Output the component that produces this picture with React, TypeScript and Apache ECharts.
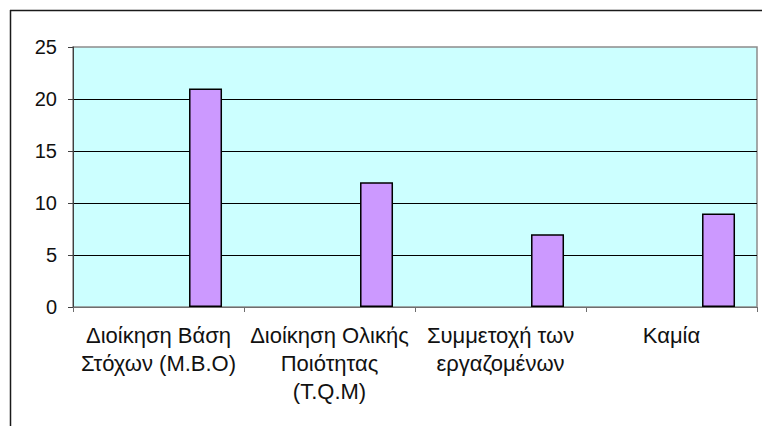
import React, { useEffect, useRef } from "react";
import * as echarts from "echarts";

const categories = [
  "Διοίκηση Βάση\nΣτόχων (Μ.Β.Ο)",
  "Διοίκηση Ολικής\nΠοιότητας\n(T.Q.M)",
  "Συμμετοχή των\nεργαζομένων",
  "Καμία",
];
const values = [21, 12, 7, 9];
const emptyValues = [null, null, null, null];

export default function App() {
  const ref = useRef<HTMLDivElement>(null);
  useEffect(() => {
    if (!ref.current) return;
    const chart = echarts.init(ref.current, null, { renderer: "svg" });
    chart.setOption({
      animation: false,
      textStyle: { fontFamily: "Liberation Sans, Arial, sans-serif" },
      graphic: [
        { type: "line", shape: { x1: 10, y1: 10.5, x2: 762, y2: 10.5 }, style: { stroke: "#1a1a1a", lineWidth: 1.5 } },
        { type: "line", shape: { x1: 10.5, y1: 10, x2: 10.5, y2: 426 }, style: { stroke: "#1a1a1a", lineWidth: 1.5 } },
      ],
      grid: {
        left: 73,
        top: 47,
        right: 5,
        bottom: 119,
        containLabel: false,
        show: true,
        backgroundColor: "#CCFFFF",
        borderColor: "#8c8c8c",
        borderWidth: 1.5,
      },
      xAxis: {
        type: "category",
        data: categories,
        axisLine: { lineStyle: { color: "#6e6e6e", width: 1 } },
        axisTick: { show: true, length: 5, lineStyle: { color: "#6e6e6e" } },
        axisLabel: {
          color: "#111",
          fontSize: 22,
          lineHeight: 28,
          margin: 14,
          interval: 0,
          align: "center",
        },
      },
      yAxis: {
        type: "value",
        min: 0,
        max: 25,
        interval: 5,
        axisLine: { show: true, lineStyle: { color: "#404040", width: 1 } },
        axisTick: { show: true, length: 5, lineStyle: { color: "#404040" } },
        axisLabel: { color: "#111", fontSize: 20, margin: 16 },
        splitLine: { show: true, showMaxLine: false, lineStyle: { color: "#000", width: 1 } },
      },
      series: [
        {
          type: "bar",
          data: emptyValues,
          barWidth: 33,
          barGap: "185%",
        },
        {
          type: "bar",
          data: values,
          barWidth: 33,
          barGap: "185%",
          itemStyle: { color: "#CC99FF", borderColor: "#000", borderWidth: 1.5 },
        },
      ],
    });
    return () => chart.dispose();
  }, []);
  return (
    <div
      ref={ref}
      style={{ position: "absolute", left: 0, top: 0, width: 762, height: 426, background: "#fff" }}
    />
  );
}
